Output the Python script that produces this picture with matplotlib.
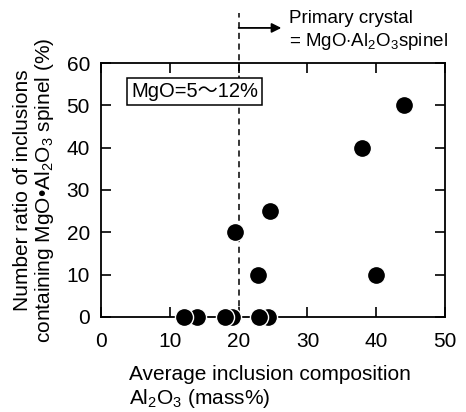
import matplotlib
matplotlib.use("Agg")
import matplotlib.pyplot as plt

plt.rcParams["font.family"] = ["Liberation Sans", "DejaVu Sans"]
plt.rcParams["mathtext.fontset"] = "custom"
plt.rcParams["mathtext.rm"] = "Liberation Sans"
plt.rcParams["mathtext.it"] = "Liberation Sans"
plt.rcParams["mathtext.bf"] = "Liberation Sans"

# data (left point of each overlapping pair listed last so it sits on top)
al2o3 = [44, 38, 40, 24.5, 19.5, 22.8, 24.3, 23, 19, 18, 14, 12]
ratio = [50, 40, 10, 25, 20, 10, 0, 0, 0, 0, 0, 0]
xticks = [0, 10, 20, 30, 40, 50]
yticks = [0, 10, 20, 30, 40, 50, 60]
boundary = 20

fig = plt.figure(figsize=(4.66, 4.12), dpi=100)
ax = fig.add_axes([0.217, 0.231, 0.738, 0.616])

ax.scatter(al2o3, ratio, s=170, c="black", edgecolors="white", linewidths=1.0,
           zorder=5, clip_on=False)

ax.set_xlim(0, 50)
ax.set_ylim(0, 60)
ax.set_xticks(xticks)
ax.set_yticks(yticks)
ax.tick_params(direction="in", length=7, width=1.2, top=True, right=True,
               labelsize=15)
ax.tick_params(axis="x", pad=11)
ax.tick_params(axis="y", pad=8)
for sp in ax.spines.values():
    sp.set_linewidth(1.3)

# dashed boundary line, running above the axes
ax.plot([boundary, boundary], [0, 71.8], ls=(0, (4, 3)), color="black", lw=1.1,
        clip_on=False, zorder=3)
ax.annotate("", xy=(26.2, 68.3), xytext=(boundary, 68.3),
            xycoords="data", textcoords="data", annotation_clip=False,
            arrowprops=dict(arrowstyle="-|>", color="black", lw=1.3,
                            mutation_scale=14, shrinkA=0, shrinkB=0))
ax.text(27.3, 70.6, "Primary crystal", fontsize=13.5, ha="left", va="center",
        clip_on=False)
ax.text(27.3, 65.1, r"= MgO$\cdot$Al$_2$O$_3$spinel", fontsize=13.5,
        ha="left", va="center", clip_on=False)

ax.text(4.4, 53.2, "MgO=5\u301c12%", fontsize=14.5, ha="left", va="center",
        family=["Liberation Sans", "Noto Sans CJK JP", "DejaVu Sans"],
        bbox=dict(boxstyle="square,pad=0.2", fc="white", ec="black", lw=1.1),
        zorder=6)

ax.set_xlabel("Average inclusion composition\nAl$_2$O$_3$ (mass%)",
              fontsize=15, ha="left", x=0.08, linespacing=1.15, labelpad=10)
ax.set_ylabel("Number ratio of inclusions\ncontaining MgO\u2022Al$_2$O$_3$ spinel (%)",
              fontsize=15, linespacing=1.05, labelpad=8)

fig.savefig("out.png", dpi=100)
